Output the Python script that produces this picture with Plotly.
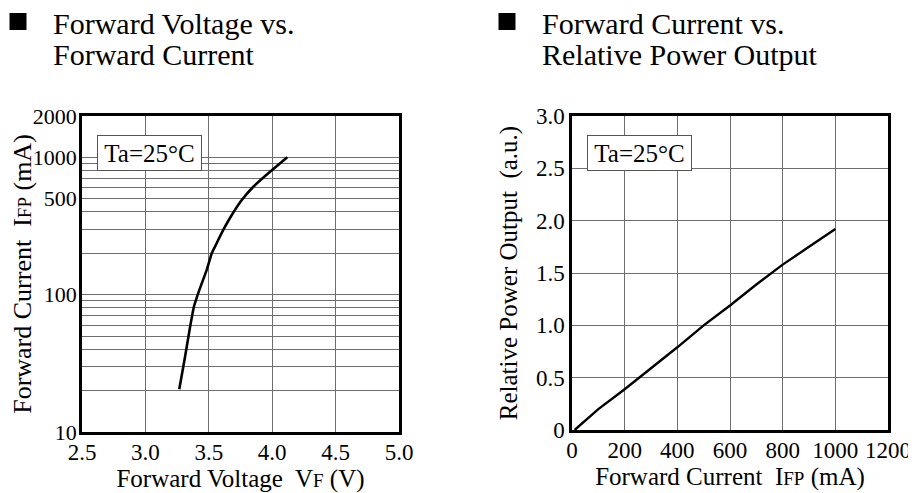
import plotly.graph_objects as go

# Left chart: Forward Voltage vs Forward Current
vf_volts = [3.267, 3.312, 3.352, 3.383, 3.425, 3.483, 3.523, 3.562, 3.614, 3.681,
            3.760, 3.851, 3.983, 4.119]
if_ma = [20.5, 35, 58, 82, 108, 151, 200, 237, 296, 380, 489, 611, 785, 1000]

# Right chart: Forward Current vs Relative Power Output
ifp_ma = [10, 100, 200, 300, 400, 500, 600, 700, 800, 900, 1000]
rel_power = [0.0, 0.2, 0.39, 0.59, 0.79, 1.0, 1.19, 1.39, 1.58, 1.75, 1.92]

left_x_ticks = [2.5, 3.0, 3.5, 4.0, 4.5, 5.0]
left_x_labels = ["2.5", "3.0", "3.5", "4.0", "4.5", "5.0"]
left_y_grid = [10, 20, 30, 40, 50, 60, 70, 80, 90, 100, 200, 300, 400, 500,
               600, 700, 800, 900, 1000, 2000]
left_y_labels = {10: "10", 100: "100", 500: "500", 1000: "1000", 2000: "2000"}
right_x_ticks = [0, 200, 400, 600, 800, 1000, 1200]
right_y_ticks = [0, 0.5, 1.0, 1.5, 2.0, 2.5, 3.0]
right_y_labels = ["0", "0.5", "1.0", "1.5", "2.0", "2.5", "3.0"]

# page body has an 8px margin, so the figure is a bit smaller than the window
OFF = 8
W, H = 916 - OFF, 493 - OFF
FONT = "Liberation Serif"

def px_x(p):  # screen pixel -> paper fraction
    return (p - OFF) / W

def px_y(p):
    return 1 - (p - OFF) / H

fig = go.Figure()
fig.add_trace(go.Scatter(x=vf_volts, y=if_ma, mode="lines",
                         line=dict(color="black", width=2.6, shape="spline", smoothing=0.3),
                         xaxis="x", yaxis="y", showlegend=False))
fig.add_trace(go.Scatter(x=ifp_ma, y=rel_power, mode="lines", line=dict(color="black", width=2.4),
                         xaxis="x2", yaxis="y2", showlegend=False))

grid = "#6e6e6e"
axis_common = dict(showline=True, mirror=True, linecolor="black", linewidth=2.5,
                   showgrid=True, gridcolor=grid, gridwidth=1, ticks="", ticklen=0, automargin=False,
                   zeroline=False)
tick23 = dict(family=FONT, size=23, color="black")
tick22 = dict(family=FONT, size=22, color="black")
sub = "<span style='font-size:19px'>{}</span>"

fig.update_layout(
    width=W, height=H, margin=dict(l=0, r=0, t=0, b=0),
    paper_bgcolor="white", plot_bgcolor="white",
    font=dict(family=FONT, color="black"),
    xaxis=dict(domain=[px_x(82), px_x(399)], range=[2.5, 5.0], tickvals=left_x_ticks,
               ticktext=left_x_labels, anchor="y", ticklabelstandoff=-2, tickfont=tick23,
               title=dict(text="Forward Voltage  V" + sub.format("F") + " (V)",
                          font=dict(family=FONT, size=25, color="black"), standoff=0),
               **axis_common),
    yaxis=dict(domain=[px_y(432), px_y(116)], type="log", range=[1, 3.30103],
               tickvals=left_y_grid, ticktext=[left_y_labels.get(v, "") for v in left_y_grid],
               anchor="x", ticklabelstandoff=-2, tickfont=tick22,
               title=dict(text="Forward Current  I" + sub.format("FP") + " (mA)",
                          font=dict(family=FONT, size=26, color="black"), standoff=0),
               **axis_common),
    xaxis2=dict(domain=[px_x(572), px_x(888)], range=[0, 1200], tickvals=right_x_ticks,
                ticktext=[str(v) for v in right_x_ticks], anchor="y2", ticklabelstandoff=-2,
                tickfont=tick23,
                title=dict(text="Forward Current  I" + sub.format("FP") + " (mA)",
                           font=dict(family=FONT, size=25, color="black"), standoff=0),
                **axis_common),
    yaxis2=dict(domain=[px_y(430), px_y(116)], range=[0, 3.0], tickvals=right_y_ticks,
                ticktext=right_y_labels, anchor="x2", tickfont=tick23,
                title=dict(text="Relative Power Output  (a.u.)",
                           font=dict(family=FONT, size=25, color="black"), standoff=12),
                **axis_common),
)

title_font = dict(family=FONT, size=30, color="black")
annos = [
    dict(text="Forward Voltage vs.", x=px_x(51), y=px_y(23), font=title_font),
    dict(text="Forward Current", x=px_x(51), y=px_y(54), font=title_font),
    dict(text="Forward Current vs.", x=px_x(540), y=px_y(23), font=title_font),
    dict(text="Relative Power Output", x=px_x(540), y=px_y(54), font=title_font),
]
for a in annos:
    a.update(xref="paper", yref="paper", showarrow=False, xanchor="left", yanchor="middle")
    fig.add_annotation(**a)

# bullet squares
for x0 in (9.5, 498.5):
    fig.add_shape(type="rect", xref="paper", yref="paper", x0=px_x(x0), x1=px_x(x0 + 17),
                  y0=px_y(30), y1=px_y(13), fillcolor="black", line=dict(width=0))

for xr, yr in (("x domain", "y domain"), ("x2 domain", "y2 domain")):
    fig.add_annotation(text="Ta=25°C", xref=xr, yref=yr, x=0.048, y=0.94, xanchor="left", yanchor="top",
                       showarrow=False, bgcolor="white", bordercolor="#555", borderwidth=1, borderpad=0,
                       width=103, height=34,
                       font=dict(family=FONT, size=25, color="black"))

fig.write_html("out.html")
